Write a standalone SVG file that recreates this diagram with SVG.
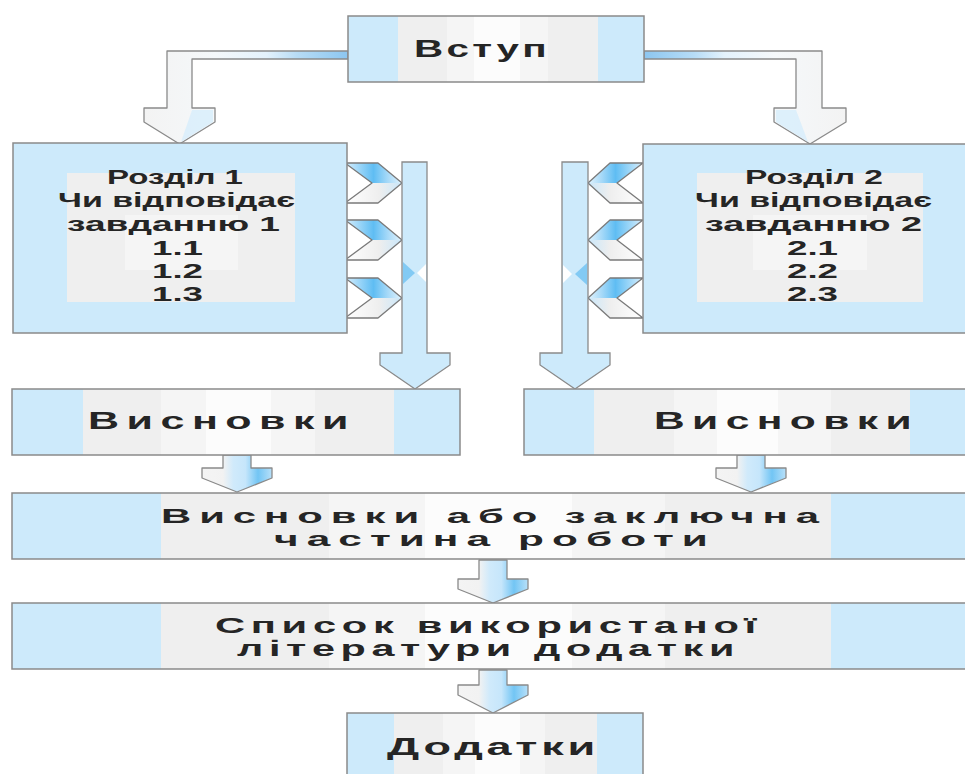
<svg xmlns="http://www.w3.org/2000/svg" width="965" height="774" viewBox="0 0 965 774">
<defs>
<style>
.box{stroke:#8a8a8a;stroke-width:1.5}
.blue{fill:#cdeafb}
.g1{fill:#efefef}
.g2{fill:#f5f5f5}
.g3{fill:#fcfcfc}
.t{font-family:"Liberation Sans",Arial,sans-serif;font-weight:bold;fill:#252525}
.sec{font-size:21px}
.big{font-size:23px;letter-spacing:4px}
.mid{font-size:21px;letter-spacing:4px}
.bar{fill:#cdeafb;stroke:#8a8a8a;stroke-width:1.3}
.chev{fill:none;stroke:#7a7a7a;stroke-width:1.3;stroke-linejoin:round}
.arr{stroke:#8a8a8a;stroke-width:1.3;stroke-linejoin:round}
</style>
<linearGradient id="chevUp" x1="0" y1="0" x2="1" y2="0">
<stop offset="0" stop-color="#d9effd"/>
<stop offset="0.5" stop-color="#5fbdf3"/>
<stop offset="0.75" stop-color="#a6d9f8"/>
<stop offset="1" stop-color="#e2f3fd"/>
</linearGradient>
<linearGradient id="chevUpR" x1="1" y1="0" x2="0" y2="0">
<stop offset="0" stop-color="#d9effd"/>
<stop offset="0.5" stop-color="#5fbdf3"/>
<stop offset="0.75" stop-color="#a6d9f8"/>
<stop offset="1" stop-color="#e2f3fd"/>
</linearGradient>
<linearGradient id="chevDn" x1="0" y1="0" x2="1" y2="0">
<stop offset="0" stop-color="#ffffff"/>
<stop offset="0.6" stop-color="#eeeeee"/>
<stop offset="1" stop-color="#c9e7fa"/>
</linearGradient>
<linearGradient id="chevDnR" x1="1" y1="0" x2="0" y2="0">
<stop offset="0" stop-color="#ffffff"/>
<stop offset="0.6" stop-color="#eeeeee"/>
<stop offset="1" stop-color="#c9e7fa"/>
</linearGradient>
<linearGradient id="small" x1="0" y1="0" x2="1" y2="0">
<stop offset="0" stop-color="#f4f4f4"/>
<stop offset="0.3" stop-color="#f2f2f2"/>
<stop offset="0.45" stop-color="#d0eafb"/>
<stop offset="0.62" stop-color="#c6e6fb"/>
<stop offset="0.8" stop-color="#72c5f4"/>
<stop offset="1" stop-color="#b8e0f9"/>
</linearGradient>
<linearGradient id="elbL" gradientUnits="userSpaceOnUse" x1="144" y1="0" x2="348" y2="0">
<stop offset="0" stop-color="#f3f3f3"/>
<stop offset="0.35" stop-color="#f5f8fa"/>
<stop offset="0.6" stop-color="#e4f2fc"/>
<stop offset="0.75" stop-color="#b7dcf6"/>
<stop offset="1" stop-color="#8cc6f0"/>
</linearGradient>
<linearGradient id="elbR" gradientUnits="userSpaceOnUse" x1="846" y1="0" x2="644" y2="0">
<stop offset="0" stop-color="#f3f3f3"/>
<stop offset="0.35" stop-color="#f5f8fa"/>
<stop offset="0.6" stop-color="#e4f2fc"/>
<stop offset="0.75" stop-color="#b7dcf6"/>
<stop offset="1" stop-color="#8cc6f0"/>
</linearGradient>
</defs>
<rect width="965" height="774" fill="#ffffff"/>

<g id="connectors">
  <polygon class="arr" fill="url(#elbL)" points="348,51 167,51 167,108 144,108 144,122 179.5,144 215,122 215,108 192,108 192,59 348,59"/>
  <polygon fill="#d7edfb" opacity="0.8" points="192,110 213,110 213,122 181,142"/>
  <polygon class="arr" fill="url(#elbR)" points="644,51 822,51 822,108 846,108 846,122 810,144 774,122 774,108 796,108 796,59 644,59"/>
  <polygon fill="#d7edfb" opacity="0.8" points="776,110 796,110 808,142 776,122"/>

  <g id="chevrons-left">
    <polygon fill="url(#chevUp)" points="345,163 378,163 402,183 372,183"/>
    <polygon fill="url(#chevDn)" points="372,183 402,183 378,203 345,203"/>
    <polygon class="chev" points="345,163 378,163 402,183 378,203 345,203 372,183"/>
    <polygon fill="url(#chevUp)" points="345,220 378,220 402,240 372,240"/>
    <polygon fill="url(#chevDn)" points="372,240 402,240 378,260 345,260"/>
    <polygon class="chev" points="345,220 378,220 402,240 378,260 345,260 372,240"/>
    <polygon fill="url(#chevUp)" points="345,278 378,278 402,298 372,298"/>
    <polygon fill="url(#chevDn)" points="372,298 402,298 378,318 345,318"/>
    <polygon class="chev" points="345,278 378,278 402,298 378,318 345,318 372,298"/>
  </g>
  <g id="chevrons-right">
    <polygon fill="url(#chevUpR)" points="643,163 610,163 588,183 617,183"/>
    <polygon fill="url(#chevDnR)" points="617,183 588,183 610,203 643,203"/>
    <polygon class="chev" points="643,163 610,163 588,183 610,203 643,203 617,183"/>
    <polygon fill="url(#chevUpR)" points="643,220 610,220 588,240 617,240"/>
    <polygon fill="url(#chevDnR)" points="617,240 588,240 610,260 643,260"/>
    <polygon class="chev" points="643,220 610,220 588,240 610,260 643,260 617,240"/>
    <polygon fill="url(#chevUpR)" points="643,278 610,278 588,298 617,298"/>
    <polygon fill="url(#chevDnR)" points="617,298 588,298 610,318 643,318"/>
    <polygon class="chev" points="643,278 610,278 588,298 610,318 643,318 617,298"/>
  </g>

  <polygon class="bar" points="402,162 427,162 427,353 450,353 450,365 415,389 380,365 380,353 402,353"/>
  <polygon fill="#6fc2f3" opacity="0.8" points="403,262 415,273 403,284"/>
  <polygon fill="#ffffff" points="426,264 417,273 426,282"/>
  <polygon class="bar" points="562,162 588,162 588,353 610,353 610,365 575,389 540,365 540,353 562,353"/>
  <polygon fill="#6fc2f3" opacity="0.8" points="587,263 575,274 587,285"/>
  <polygon fill="#ffffff" points="563,265 572,274 563,283"/>

  <polygon class="arr" fill="url(#small)" points="223,455 251,455 251,468 272,468 272,478 237,492 202,478 202,468 223,468"/>
  <polygon class="arr" fill="url(#small)" points="737,455 765,455 765,468 786,468 786,478 751,492 716,478 716,468 737,468"/>
  <polygon class="arr" fill="url(#small)" points="479,560 507,560 507,579 528,579 528,589 493,603 458,589 458,579 479,579"/>
  <polygon class="arr" fill="url(#small)" points="479,670 507,670 507,685 528,685 528,695 493,713 458,695 458,685 479,685"/>
</g>

<g id="node-vstup">
  <rect class="blue" x="348" y="16" width="296" height="66"/>
  <rect class="g1" x="398" y="16" width="200" height="66"/>
  <rect class="g2" x="447" y="16" width="101" height="66"/>
  <rect class="g3" x="474" y="16" width="46" height="66"/>
  <rect class="box" fill="none" x="348" y="16" width="296" height="66"/>
  <text class="t" x="414" y="57" font-size="24" letter-spacing="2" textLength="136" lengthAdjust="spacingAndGlyphs">Вступ</text>
</g>

<g id="node-rozdil1">
  <rect class="blue" x="13" y="143" width="334" height="190"/>
  <rect class="g1" x="67" y="173" width="228" height="129"/>
  <rect class="g2" x="125" y="215" width="113" height="55"/>
  <rect class="box" fill="none" x="13" y="143" width="334" height="190"/>
  <text class="t sec" x="107" y="184" textLength="136" lengthAdjust="spacingAndGlyphs">Розділ 1</text>
  <text class="t sec" x="58" y="207" textLength="237" lengthAdjust="spacingAndGlyphs">Чи відповідає</text>
  <text class="t sec" x="67" y="231" textLength="213" lengthAdjust="spacingAndGlyphs">завданню 1</text>
  <text class="t sec" x="152" y="255" textLength="51" lengthAdjust="spacingAndGlyphs">1.1</text>
  <text class="t sec" x="152" y="278" textLength="51" lengthAdjust="spacingAndGlyphs">1.2</text>
  <text class="t sec" x="152" y="301" textLength="51" lengthAdjust="spacingAndGlyphs">1.3</text>
</g>

<g id="node-rozdil2">
  <rect class="blue" x="643" y="144" width="340" height="189"/>
  <rect class="g1" x="697" y="173" width="226" height="129"/>
  <rect class="g2" x="753" y="215" width="114" height="55"/>
  <rect class="box" fill="none" x="643" y="144" width="340" height="189"/>
  <text class="t sec" x="745" y="184" textLength="138" lengthAdjust="spacingAndGlyphs">Розділ 2</text>
  <text class="t sec" x="695" y="207" textLength="237" lengthAdjust="spacingAndGlyphs">Чи відповідає</text>
  <text class="t sec" x="705" y="231" textLength="217" lengthAdjust="spacingAndGlyphs">завданню 2</text>
  <text class="t sec" x="787" y="255" textLength="51" lengthAdjust="spacingAndGlyphs">2.1</text>
  <text class="t sec" x="787" y="278" textLength="51" lengthAdjust="spacingAndGlyphs">2.2</text>
  <text class="t sec" x="787" y="301" textLength="51" lengthAdjust="spacingAndGlyphs">2.3</text>
</g>

<g id="node-vysnovky1">
  <rect class="blue" x="12" y="389" width="448" height="66"/>
  <rect class="g1" x="83" y="389" width="311" height="66"/>
  <rect class="g2" x="161" y="389" width="154" height="66"/>
  <rect class="g3" x="206" y="389" width="65" height="66"/>
  <rect class="box" fill="none" x="12" y="389" width="448" height="66"/>
  <text class="t big" x="88" y="429" textLength="268" lengthAdjust="spacingAndGlyphs">Висновки</text>
</g>

<g id="node-vysnovky2">
  <rect class="blue" x="524" y="389" width="460" height="66"/>
  <rect class="g1" x="594" y="389" width="316" height="66"/>
  <rect class="g2" x="674" y="389" width="157" height="66"/>
  <rect class="g3" x="717" y="389" width="61" height="66"/>
  <rect class="box" fill="none" x="524" y="389" width="460" height="66"/>
  <text class="t big" x="654" y="429" textLength="265" lengthAdjust="spacingAndGlyphs">Висновки</text>
</g>

<g id="node-zakliuchna">
  <rect class="blue" x="12" y="493" width="972" height="66"/>
  <rect class="g1" x="161" y="493" width="670" height="66"/>
  <rect class="g2" x="329" y="493" width="336" height="66"/>
  <rect class="g3" x="425" y="493" width="147" height="66"/>
  <rect class="box" fill="none" x="12" y="493" width="972" height="66"/>
  <text class="t mid" x="161" y="523" textLength="666" lengthAdjust="spacingAndGlyphs">Висновки або заключна</text>
  <text class="t mid" x="274" y="546" textLength="442" lengthAdjust="spacingAndGlyphs">частина роботи</text>
</g>

<g id="node-spysok">
  <rect class="blue" x="12" y="603" width="972" height="66"/>
  <rect class="g1" x="161" y="603" width="670" height="66"/>
  <rect class="g2" x="329" y="603" width="336" height="66"/>
  <rect class="g3" x="425" y="603" width="147" height="66"/>
  <rect class="box" fill="none" x="12" y="603" width="972" height="66"/>
  <text class="t" x="215" y="633" font-size="22" letter-spacing="3" textLength="547" lengthAdjust="spacingAndGlyphs">Список використаної</text>
  <text class="t" x="237" y="656" font-size="22" letter-spacing="3" textLength="503" lengthAdjust="spacingAndGlyphs">літератури додатки</text>
</g>

<g id="node-dodatky">
  <rect class="blue" x="347" y="713" width="296" height="70"/>
  <rect class="g1" x="394" y="713" width="203" height="70"/>
  <rect class="g2" x="443" y="713" width="102" height="70"/>
  <rect class="g3" x="475" y="713" width="45" height="70"/>
  <rect class="box" fill="none" x="347" y="713" width="296" height="70"/>
  <text class="t" x="387" y="755" font-size="24" letter-spacing="2" textLength="212" lengthAdjust="spacingAndGlyphs">Додатки</text>
</g>
</svg>
